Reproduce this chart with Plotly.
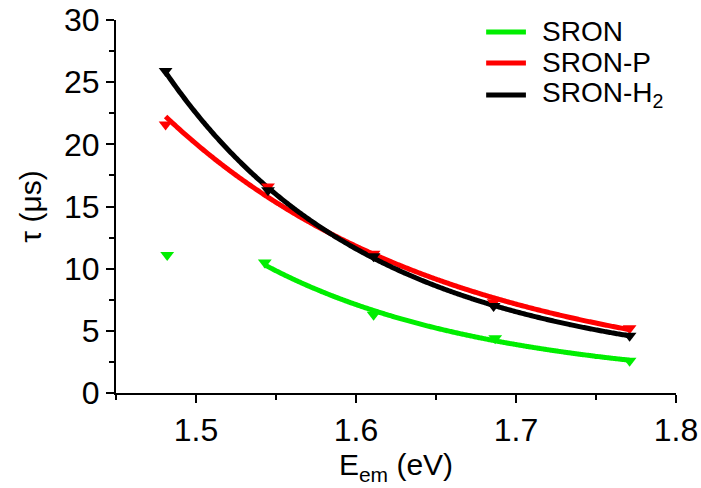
import numpy as np
import plotly.graph_objects as go

# Emission energy (eV) and PL lifetime (µs)
e_sron = [1.482, 1.543, 1.611, 1.687, 1.771]
tau_sron = [11.1, 10.5, 6.3, 4.4, 2.6]

e_sronp = [1.481, 1.545, 1.611, 1.686, 1.771]
tau_sronp = [21.6, 16.6, 11.2, 7.3, 5.2]

e_sronh = [1.481, 1.545, 1.611, 1.686, 1.771]
tau_sronh = [25.9, 16.3, 11.0, 7.0, 4.6]

x_ticks = [1.5, 1.6, 1.7, 1.8]
y_ticks = [0, 5, 10, 15, 20, 25, 30]

FONT = "Liberation Sans, Arial, sans-serif"


def decay_fit(x, y):
    """Smooth curve from a quadratic fit of ln(tau) vs energy."""
    c = np.polyfit(x, np.log(y), 2)
    xs = np.linspace(min(x), max(x), 200)
    return xs, np.exp(np.polyval(c, xs))


series = [
    ("SRON", e_sron, tau_sron, "#00ee00", 1),  # first point excluded from fit
    ("SRON-P", e_sronp, tau_sronp, "#ff0000", 0),
    ("SRON-H<sub>2</sub>", e_sronh, tau_sronh, "#000000", 0),
]

fig = go.Figure()
for name, x, y, col, skip in series:
    xs, ys = decay_fit(x[skip:], y[skip:])
    fig.add_trace(go.Scatter(x=xs, y=ys, mode="lines", name=name, showlegend=False,
                             line=dict(color=col, width=5, shape="spline")))
for name, x, y, col, skip in series:
    fig.add_trace(go.Scatter(x=x, y=y, mode="markers", showlegend=False,
                             marker=dict(symbol="triangle-down", size=12,
                                         color=col)))

# Legend drawn as line samples with labels in the upper right corner
leg_rows = [0.968, 0.885, 0.799]
for (name, _, _, col, _), yy in zip(series, leg_rows):
    fig.add_shape(type="line", xref="paper", yref="paper",
                  x0=0.661, x1=0.732, y0=yy, y1=yy,
                  line=dict(color=col, width=5))
    fig.add_annotation(text=name, xref="paper", yref="paper", x=0.757, y=yy,
                       xanchor="left", yanchor="middle", showarrow=False,
                       font=dict(family=FONT, size=28, color="black"))

axis_common = dict(
    showline=True, linecolor="black", linewidth=2,
    ticks="outside", ticklen=8, tickwidth=2, tickcolor="black",
    showgrid=False, zeroline=False, mirror=False, automargin=False,
    tickfont=dict(family=FONT, size=32, color="black"),
)

fig.update_xaxes(range=[1.45, 1.8], tickvals=x_ticks, ticktext=[str(v) for v in x_ticks],
                 minor=dict(dtick=0.05, tick0=1.45, ticks="outside", ticklen=5,
                            tickwidth=2, tickcolor="black"),
                 title=dict(text="E<sub>em</sub> (eV)",
                            font=dict(family=FONT, size=30, color="black"),
                            standoff=6),
                 **axis_common)
fig.update_yaxes(range=[0, 30], tickvals=y_ticks,
                 minor=dict(dtick=2.5, tick0=0, ticks="outside", ticklen=5,
                            tickwidth=2, tickcolor="black"),
                 title=dict(text="τ (μs)",
                            font=dict(family=FONT, size=30, color="black"),
                            standoff=14),
                 **axis_common)

fig.update_layout(
    width=701, height=488,
    margin=dict(l=116, r=25, t=20, b=95),
    plot_bgcolor="white", paper_bgcolor="white",
    showlegend=False,
)

fig.write_html("out.html")
